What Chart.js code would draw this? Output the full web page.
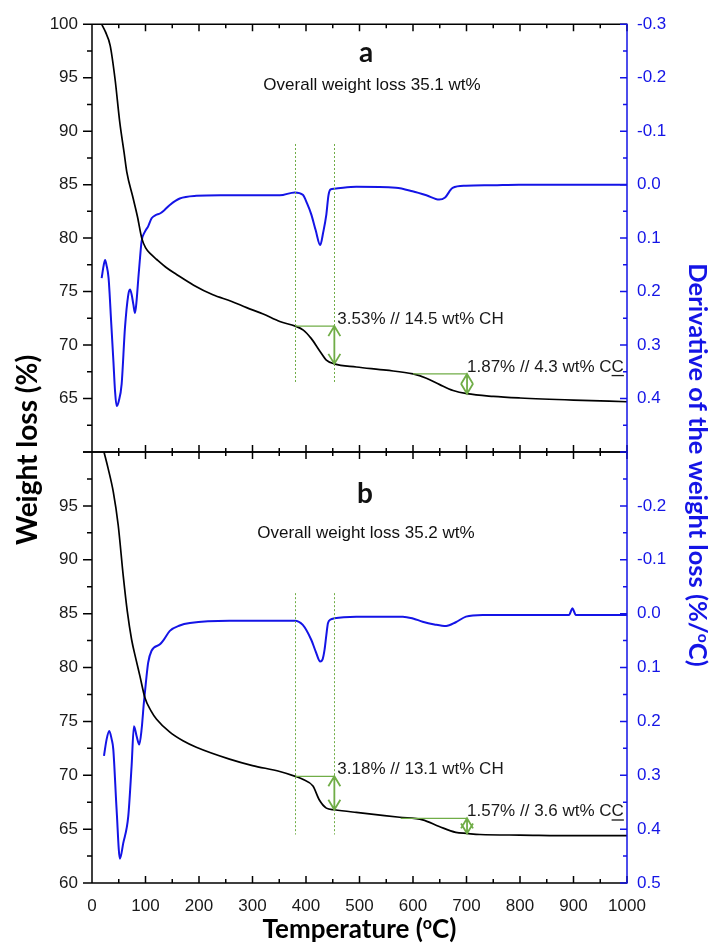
<!DOCTYPE html>
<html>
<head>
<meta charset="utf-8">
<script src="https://cdn.jsdelivr.net/npm/chart.js@4.4.0/dist/chart.umd.min.js"></script>
<style>
html, body { margin: 0; padding: 0; background: #fff; }
#wrap { position: relative; width: 710px; height: 943px; }
#wrap canvas { position: absolute; left: 0; top: 0; }
</style>
</head>
<body>
<div id="wrap">
  <canvas id="chartA" width="710" height="943"></canvas>
  <canvas id="chartB" width="710" height="943"></canvas>
</div>
<script>
// ---- panel a : TGA (weight %) and DTG (%/oC) ----
const tempWA = [18, 25, 34, 43, 52, 60, 65, 77, 85, 93, 100, 110, 121, 140, 158, 190, 226, 260, 289, 320, 351,
  380, 395, 410, 425, 438, 453, 494, 550, 600, 625, 650, 675, 701, 750, 800, 900, 1000];
const weightA = [100, 99.3, 98.0, 94.9, 90.8, 88.0, 86.2, 83.7, 82.0, 80.0, 79.1, 78.5, 78.0, 77.2, 76.6, 75.6, 74.7, 74.1, 73.5, 72.9, 72.2,
  71.77, 71.4, 70.6, 69.5, 68.6, 68.24, 67.95, 67.65, 67.3, 66.9, 66.3, 65.75, 65.45, 65.2, 65.05, 64.85, 64.7];
const tempDA = [18, 22, 24.5, 27, 31, 36, 40, 43, 46, 50, 55.4, 61.6, 67.8, 71, 74, 77.3, 80.4, 83.5, 86.6, 89.5, 92.7,
  99, 105, 111.4, 119, 127, 136, 145.5, 164, 195, 240, 300, 351, 379, 394, 402, 410, 418, 426.6, 432, 438, 442, 446, 453,
  494, 568, 599, 625, 649, 660, 674, 699, 750, 798, 900, 1000];
const derivA = [0.175, 0.150, 0.141, 0.150, 0.175, 0.26, 0.33, 0.385, 0.414, 0.405, 0.373, 0.268, 0.206, 0.196, 0.205, 0.224, 0.240, 0.215, 0.175, 0.14, 0.106,
  0.088, 0.078, 0.063, 0.057, 0.054, 0.047, 0.038, 0.026, 0.021, 0.020, 0.020, 0.020, 0.0145, 0.019, 0.035, 0.056, 0.085, 0.113, 0.09, 0.056, 0.02, 0.009, 0.0075,
  0.004, 0.006, 0.0125, 0.02, 0.028, 0.024, 0.006, 0.002, 0.001, 0, 0, 0];

// ---- panel b ----
const tempWB = [22.4, 30, 39.8, 49, 58.4, 66, 74, 82, 89.6, 98.9, 110, 120.7, 145.5, 170, 195, 257, 300, 351,
  380, 395, 413, 425, 438, 453, 494, 575, 618, 649, 680, 701, 725, 800, 900, 1000];
const weightB = [100, 98.5, 96.3, 93.2, 88.5, 85.2, 82.6, 80.8, 79.2, 77.2, 76.0, 75.2, 74.0, 73.2, 72.6, 71.5, 70.9, 70.35,
  69.9, 69.6, 69.0, 67.7, 66.95, 66.8, 66.55, 66.1, 65.86, 65.24, 64.7, 64.6, 64.5, 64.45, 64.4, 64.4];
const tempDB = [22.4, 27.4, 32.3, 36.7, 39.8, 46, 52.2, 58.4, 67.8, 74, 78.4, 83.3, 88.3, 92.7, 97, 100.7, 105, 111.3, 127, 133, 145.5, 164, 183, 257, 351,
  379, 394, 410, 418, 426.6, 431, 434.7, 438, 441, 446, 453, 494, 581, 600, 618, 640, 662, 680, 699, 730, 892, 895, 898, 901, 904, 1000];
const derivB = [0.264, 0.233, 0.218, 0.233, 0.252, 0.364, 0.455, 0.426, 0.376, 0.283, 0.209, 0.227, 0.243, 0.215, 0.165, 0.128, 0.091, 0.069, 0.057, 0.050, 0.032, 0.022, 0.0175, 0.013, 0.013,
  0.013, 0.021, 0.049, 0.07, 0.089, 0.085, 0.067, 0.04, 0.018, 0.011, 0.0086, 0.0056, 0.0056, 0.009, 0.015, 0.02, 0.023, 0.016, 0.0056, 0.0024, 0.0024, -0.004, -0.010, -0.004, 0.0024, 0.0024];

// ---- annotations (temperatures in oC, weight levels in %) ----
const guideTemps = [380, 453];
const guideRangeA = [88.8, 66.5];
const guideRangeB = [86.9, 64.5];
const chTempA = [380, 453], chWeightA = [71.77, 68.24];
const ccTempA = [600, 701], ccWeightA = [67.3, 65.45];
const chTempB = [380, 453], chWeightB = [69.9, 66.8];
const ccTempB = [577, 701], ccWeightB = [66.0, 64.6];
const textsA = ['a', 'Overall weight loss 35.1 wt%', '3.53% // 14.5 wt% CH', '1.87% // 4.3 wt% CC'];
const textsB = ['b', 'Overall weight loss 35.2 wt%', '3.18% // 13.1 wt% CH', '1.57% // 3.6 wt% CC'];

const FONT = '"Liberation Sans", Arial, sans-serif';
const TFONT = 'Lato, "Open Sans", sans-serif';
const BLUE = '#1414e6';
const GREEN = 'rgb(112,173,71)';

function pts(xs, ys) { return xs.map((t, i) => ({ x: t, y: ys[i] })); }

// text with a superscript "o" ; segs = [[text, isSup], ...]
function richText(ctx, segs, x, y, size, weight, family, align) {
  const widths = segs.map(s => {
    ctx.font = weight + ' ' + (s[1] ? size * 0.62 : size) + 'px ' + family;
    return ctx.measureText(s[0]).width;
  });
  const total = widths.reduce((p, c) => p + c, 0);
  let cx = align === 'center' ? x - total / 2 : x;
  ctx.textAlign = 'left';
  ctx.textBaseline = 'alphabetic';
  segs.forEach((s, i) => {
    ctx.font = weight + ' ' + (s[1] ? size * 0.62 : size) + 'px ' + family;
    ctx.fillText(s[0], cx, s[1] ? y - size * 0.36 : y);
    cx += widths[i];
  });
}

const tgaPlugin = {
  id: 'tga',
  afterDatasetsDraw(chart, args, o) {
    const { ctx, scales: { x, yw } } = chart;
    ctx.save();
    ctx.strokeStyle = GREEN;
    // dotted guide lines
    ctx.lineWidth = 1;
    ctx.setLineDash([2, 2]);
    guideTemps.forEach(t => {
      const px = Math.round(x.getPixelForValue(t)) + 0.5;
      ctx.beginPath();
      ctx.moveTo(px, yw.getPixelForValue(o.guide[0]));
      ctx.lineTo(px, yw.getPixelForValue(o.guide[1]));
      ctx.stroke();
    });
    ctx.setLineDash([]);
    const steps = [[o.chT, o.chW, o.texts[2], 3], [o.ccT, o.ccW, o.texts[3], 0]];
    steps.forEach(([tt, ww, label, dx]) => {
      const x0 = x.getPixelForValue(tt[0]), x1 = x.getPixelForValue(tt[1]);
      const y0 = yw.getPixelForValue(ww[0]), y1 = yw.getPixelForValue(ww[1]);
      ctx.lineWidth = 1.2;
      ctx.beginPath(); ctx.moveTo(x0, y0); ctx.lineTo(x1, y0); ctx.stroke();
      ctx.lineWidth = 1.8;
      ctx.beginPath();
      ctx.moveTo(x1, y0); ctx.lineTo(x1, y1);
      ctx.moveTo(x1 - 6, y0 + 10); ctx.lineTo(x1, y0); ctx.lineTo(x1 + 6, y0 + 10);
      ctx.moveTo(x1 - 6, y1 - 10); ctx.lineTo(x1, y1); ctx.lineTo(x1 + 6, y1 - 10);
      ctx.stroke();
      // label sits on the level line
      ctx.fillStyle = '#1a1a1a';
      ctx.font = '17px ' + FONT;
      ctx.textAlign = 'left';
      ctx.textBaseline = 'alphabetic';
      ctx.fillText(label, x1 + dx, y0 - 2);
      if (label.endsWith('CC')) {
        const w = ctx.measureText(label).width, wc = ctx.measureText('C').width;
        ctx.fillRect(x1 + dx + w - wc, y0 + 1, wc, 1.3);
      }
    });
    ctx.restore();
  },
  afterDraw(chart, args, o) {
    const { ctx, chartArea: a, scales: { x, yw, yd } } = chart;
    ctx.save();
    // black frame: left, top, bottom
    ctx.strokeStyle = '#000';
    ctx.lineWidth = 1.5;
    ctx.beginPath();
    ctx.moveTo(a.right, a.top); ctx.lineTo(a.left, a.top);
    ctx.lineTo(a.left, a.bottom); ctx.lineTo(a.right, a.bottom);
    // x ticks, inward on top and bottom
    for (let t = 0; t <= 1000; t += 50) {
      const px = x.getPixelForValue(t), len = t % 100 === 0 ? 7 : 4;
      ctx.moveTo(px, a.top); ctx.lineTo(px, a.top + len);
      ctx.moveTo(px, a.bottom); ctx.lineTo(px, a.bottom - len);
    }
    // left ticks, outward
    for (let w = 60; w <= 100; w += 2.5) {
      const py = yw.getPixelForValue(w), len = w % 5 === 0 ? 9 : 5;
      ctx.moveTo(a.left, py); ctx.lineTo(a.left - len, py);
    }
    ctx.stroke();
    // blue right axis, ticks inward
    ctx.strokeStyle = BLUE;
    ctx.beginPath();
    ctx.moveTo(a.right, a.top - 0.75); ctx.lineTo(a.right, a.bottom + 0.75);
    for (let i = 0; i <= 16; i++) {
      const py = yd.getPixelForValue(-0.3 + i * 0.05), len = i % 2 === 0 ? 7 : 4;
      ctx.moveTo(a.right, py); ctx.lineTo(a.right - len, py);
    }
    ctx.stroke();

    // panel letter and overall loss
    ctx.fillStyle = '#111';
    ctx.textAlign = 'center';
    ctx.textBaseline = 'middle';
    ctx.font = 'bold 28px ' + TFONT;
    ctx.fillText(o.texts[0], o.letterPos[0], a.top + o.letterPos[1]);
    ctx.font = '17px ' + FONT;
    ctx.fillText(o.texts[1], o.overallPos[0], a.top + o.overallPos[1]);

    if (o.titles) {
      ctx.fillStyle = '#000';
      richText(ctx, [['Temperature (', false], ['o', true], ['C)', false]], (a.left + a.right) / 2, 938, 26, 'bold', TFONT, 'center');
      ctx.save();
      ctx.translate(37, 450);
      ctx.rotate(-Math.PI / 2);
      richText(ctx, [['Weight loss (%)', false]], 0, 0, 28, 'bold', TFONT, 'center');
      ctx.restore();
      ctx.save();
      ctx.fillStyle = BLUE;
      ctx.translate(689, 465);
      ctx.rotate(Math.PI / 2);
      richText(ctx, [['Derivative of the weight loss (%/', false], ['o', true], ['C)', false]], 0, 0, 25.5, 'bold', TFONT, 'center');
      ctx.restore();
    }
    ctx.restore();
  }
};

function makeChart(id, panel) {
  const isA = panel === 'a';
  const tick = { family: FONT, size: 17 };
  return new Chart(document.getElementById(id), {
    type: 'line',
    data: {
      datasets: [
        {
          label: 'Weight', yAxisID: 'yw',
          data: isA ? pts(tempWA, weightA) : pts(tempWB, weightB),
          borderColor: '#000', borderWidth: 1.7, pointRadius: 0,
          cubicInterpolationMode: 'monotone'
        },
        {
          label: 'Derivative', yAxisID: 'yd',
          data: isA ? pts(tempDA, derivA) : pts(tempDB, derivB),
          borderColor: BLUE, borderWidth: 2, pointRadius: 0,
          cubicInterpolationMode: 'monotone'
        }
      ]
    },
    options: {
      responsive: false,
      animation: false,
      events: [],
      layout: { padding: isA ? { top: 20, bottom: 491, left: 0, right: 0 } : { top: 452, bottom: 0, left: 0, right: 0 } },
      plugins: {
        legend: { display: false },
        tooltip: { enabled: false },
        tga: {
          titles: !isA,
          texts: isA ? textsA : textsB,
          guide: isA ? guideRangeA : guideRangeB,
          chT: isA ? chTempA : chTempB, chW: isA ? chWeightA : chWeightB,
          ccT: isA ? ccTempA : ccTempB, ccW: isA ? ccWeightA : ccWeightB,
          letterPos: isA ? [366, 29] : [365, 42],
          overallPos: isA ? [372, 61] : [366, 81]
        }
      },
      scales: {
        x: {
          type: 'linear', min: 0, max: 1000,
          display: !isA,
          grid: { display: false, drawTicks: false },
          border: { display: false },
          ticks: { stepSize: 100, padding: 13, color: '#1a1a1a', font: tick, maxRotation: 0, callback: v => String(v) },
          afterFit: s => { s.height = isA ? 0 : 60; }
        },
        yw: {
          type: 'linear', position: 'left', min: 60, max: 100,
          grid: { display: false, drawTicks: false },
          border: { display: false },
          ticks: {
            stepSize: 5, padding: 14, color: '#1a1a1a', font: tick,
            callback: v => ((isA && v === 60) || (!isA && v === 100)) ? null : String(v)
          },
          afterFit: s => { s.width = 92; }
        },
        yd: {
          type: 'linear', position: 'right', min: -0.3, max: 0.5, reverse: true,
          grid: { display: false, drawTicks: false },
          border: { display: false },
          ticks: {
            stepSize: 0.1, padding: 10, color: BLUE, font: tick,
            callback: v => {
              if ((isA && Math.abs(v - 0.5) < 1e-6) || (!isA && Math.abs(v + 0.3) < 1e-6)) return null;
              return Math.abs(v) < 1e-9 ? '0.0' : v.toFixed(1);
            }
          },
          afterFit: s => { s.width = 83; }
        }
      }
    },
    plugins: [tgaPlugin]
  });
}

makeChart('chartA', 'a');
makeChart('chartB', 'b');
</script>
</body>
</html>
